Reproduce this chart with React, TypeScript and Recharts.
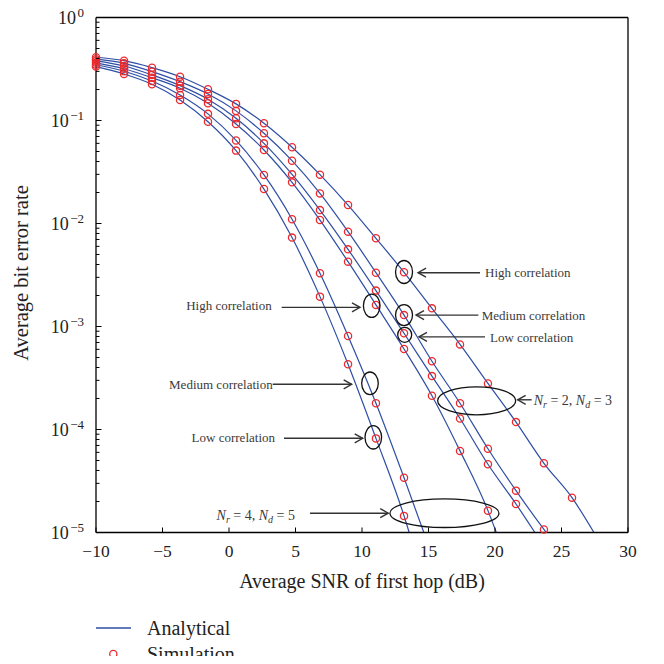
import React from 'react';
import { ComposedChart, Line, Scatter, XAxis, YAxis, ReferenceDot, Legend } from 'recharts';

const FONT = '"Liberation Serif", "Times New Roman", Times, serif';
const BLUE = '#2d4ea5';
const RED = '#eb2a2e';
const INK = '#222222';
const NOTE_INK = '#3a3a3a';

// Average SNR of first hop (dB) at which the simulation points sit
const snr = [-10, -7.89, -5.79, -3.68, -1.58, 0.53, 2.63, 4.74, 6.84, 8.95, 11.05, 13.16, 15.26, 17.37, 19.47, 21.58, 23.68, 25.79];

// Average bit error rate, one array per curve (visible points only)
const berNr2High = [0.411, 0.381, 0.326, 0.266, 0.201, 0.145, 0.094, 0.055, 0.0298, 0.0151, 0.00718, 0.00336, 0.0015, 6.7e-4, 2.8e-4, 1.18e-4, 4.7e-5, 2.18e-5];
const berNr2Med = [0.394, 0.359, 0.298, 0.238, 0.181, 0.124, 0.0751, 0.0407, 0.0196, 0.00833, 0.00333, 0.00129, 4.6e-4, 1.8e-4, 6.5e-5, 2.55e-5, 1.07e-5];
const berNr2Low = [0.379, 0.338, 0.277, 0.218, 0.161, 0.105, 0.06, 0.03, 0.0135, 0.00561, 0.00223, 8.6e-4, 3.3e-4, 1.28e-4, 4.6e-5, 1.89e-5];
const berNr4High = [0.363, 0.318, 0.26, 0.206, 0.147, 0.0925, 0.0517, 0.0251, 0.0108, 0.00426, 0.00162, 6.05e-4, 2.13e-4, 6.2e-5, 1.63e-5];
const berNr4Med = [0.348, 0.301, 0.242, 0.177, 0.116, 0.064, 0.0296, 0.011, 0.00329, 8.1e-4, 1.8e-4, 3.4e-5];
const berNr4Low = [0.334, 0.283, 0.225, 0.158, 0.0973, 0.051, 0.0216, 0.0073, 0.00195, 4.3e-4, 8.2e-5, 1.45e-5];

// SNR (dB) where each analytical curve leaves the plot at the BER floor
const exitSnr = [27.44, 23.85, 23.0, 20.1, 14.65, 13.55];
const BER_FLOOR = 1e-5;

const curveBer = [berNr2High, berNr2Med, berNr2Low, berNr4High, berNr4Med, berNr4Low];
const curveNames = ['Nr2 high', 'Nr2 medium', 'Nr2 low', 'Nr4 high', 'Nr4 medium', 'Nr4 low'];

const xTicks = [-10, -5, 0, 5, 10, 15, 20, 25, 30];
const yDecades = [1e-5, 1e-4, 1e-3, 1e-2, 1e-1, 1];
const yExponents = ['\u22125', '\u22124', '\u22123', '\u22122', '\u22121', '0'];
const yMantissas = [1, 2, 3, 4, 5, 6, 7, 8, 9];
const yTicks = yDecades
  .slice(0, -1)
  .flatMap((d) => yMantissas.map((m) => Number((m * d).toPrecision(3))))
  .concat([1]);

const legendLabels = ['Analytical', 'Simulation'];

const simData = curveBer.map((arr) => arr.map((b, i) => ({ x: snr[i], y: b })));
const lineData = curveBer.map((arr, k) => [...arr.map((b, i) => ({ x: snr[i], y: b })), { x: exitSnr[k], y: BER_FLOOR }]);

type Note = {
  snr: number; ber: number; rx: number; ry: number;
  tail: [number, number]; tip: [number, number]; text: [number, number];
  anchor: 'start' | 'end'; label?: string; relay?: [string, string];
};

const notes: Note[] = [
  { snr: 13.16, ber: 3.38e-3, rx: 8.5, ry: 11.5, tail: [76, 0.7], tip: [14, 0.7], text: [81, 0.7], anchor: 'start', label: 'High correlation' },
  { snr: 13.16, ber: 1.29e-3, rx: 8.5, ry: 10.5, tail: [74.3, 0], tip: [12, 0], text: [77.7, 0], anchor: 'start', label: 'Medium correlation' },
  { snr: 13.21, ber: 8.3e-4, rx: 7, ry: 7.5, tail: [80.3, 2], tip: [14.3, 2], text: [85.3, 2], anchor: 'start', label: 'Low correlation' },
  { snr: 18.62, ber: 1.9e-4, rx: 39, ry: 14, tail: [55, -1], tip: [41, -1], text: [57, 0], anchor: 'start', relay: ['2', '3'] },
  { snr: 10.73, ber: 1.59e-3, rx: 8.3, ry: 11.7, tail: [-90, 1.6], tip: [-11.7, 1.6], text: [-100, -0.7], anchor: 'end', label: 'High correlation' },
  { snr: 10.6, ber: 2.81e-4, rx: 8.3, ry: 11.3, tail: [-97.3, 1], tip: [-18.3, 1], text: [-97.3, 0.7], anchor: 'end', label: 'Medium correlation' },
  { snr: 10.85, ber: 8.4e-5, rx: 8.3, ry: 11.7, tail: [-89.3, 1], tip: [-10.6, 1], text: [-98.3, 0], anchor: 'end', label: 'Low correlation' },
  { snr: 16.2, ber: 1.54e-5, rx: 54.5, ry: 14.3, tail: [-134.5, 0], tip: [-56.2, 0], text: [-149.5, 1.7], anchor: 'end', relay: ['4', '5'] },
];

const isDecade = (v: number) => Math.abs(Math.log10(v) - Math.round(Math.log10(v))) < 1e-9;
const decadeIndex = (v: number) => yDecades.findIndex((d) => Math.abs(Math.log10(d) - Math.log10(v)) < 1e-9);
const fmtX = (v: number) => (v < 0 ? '\u2212' + Math.abs(v) : String(v));

function LeftTick(props: any) {
  const { x, y, payload } = props;
  const v = payload.value;
  const major = isDecade(v);
  const idx = decadeIndex(v);
  return (
    <g>
      <line x1={x} x2={x + (major ? 5.5 : 3.5)} y1={y} y2={y} stroke="#000" strokeWidth={1} />
      {major && (
        <text x={x - 12} y={y + 6} textAnchor="end" fontFamily={FONT} fontSize={18} fill={INK}>
          10
          <tspan dx={1.5} dy={-6.5} fontSize={13}>{yExponents[idx]}</tspan>
        </text>
      )}
    </g>
  );
}

function RightTick(props: any) {
  const { x, y, payload } = props;
  const major = isDecade(payload.value);
  return <line x1={x} x2={x - (major ? 5.5 : 3.5)} y1={y} y2={y} stroke="#000" strokeWidth={1} />;
}

function BottomTick(props: any) {
  const { x, y, payload } = props;
  return (
    <g>
      <line x1={x} x2={x} y1={y} y2={y - 5} stroke="#000" strokeWidth={1} />
      <text x={x} y={y + 24} textAnchor="middle" fontFamily={FONT} fontSize={17.5} fill={INK}>
        {fmtX(payload.value)}
      </text>
    </g>
  );
}

function TopTick(props: any) {
  const { x, y } = props;
  return <line x1={x} x2={x} y1={y} y2={y + 5} stroke="#000" strokeWidth={1} />;
}

function XTitle(props: any) {
  const vb = props.viewBox;
  return (
    <text x={vb.x + vb.width / 2} y={vb.y + 55.8} textAnchor="middle" fontFamily={FONT} fontSize={20} fill={INK}>
      Average SNR of first hop (dB)
    </text>
  );
}

function YTitle(props: any) {
  const vb = props.viewBox;
  const cx = vb.x + 19.5;
  const cy = vb.y + vb.height / 2 - 2;
  return (
    <text x={cx} y={cy} transform={`rotate(-90, ${cx}, ${cy})`} textAnchor="middle" fontFamily={FONT} fontSize={20.5} fill={INK}>
      Average bit error rate
    </text>
  );
}

function SimMarker(props: any) {
  const { cx, cy } = props;
  return <circle cx={cx} cy={cy} r={3.6} fill="none" stroke={RED} strokeWidth={1.3} />;
}

function RelayText({ x, y, anchor, nr, nd }: any) {
  return (
    <text x={x} y={y} textAnchor={anchor} fontFamily={FONT} fontSize={14} fill={NOTE_INK}>
      <tspan fontStyle="italic">N</tspan>
      <tspan fontStyle="italic" fontSize={10} dy={3}>r</tspan>
      <tspan dy={-3}>{' = ' + nr + ', '}</tspan>
      <tspan fontStyle="italic">N</tspan>
      <tspan fontStyle="italic" fontSize={10} dy={3}>d</tspan>
      <tspan dy={-3}>{' = ' + nd}</tspan>
    </text>
  );
}

function NoteMark({ cx, cy, note }: { cx: number; cy: number; note: Note }) {
  const x0 = cx + note.tail[0], y0 = cy + note.tail[1];
  const x1 = cx + note.tip[0], y1 = cy + note.tip[1];
  const dx = x1 - x0, dy = y1 - y0;
  const len = Math.hypot(dx, dy) || 1;
  const ux = dx / len, uy = dy / len;
  const hl = 8, hw = 4.5;
  const bx = x1 - ux * hl, by = y1 - uy * hl;
  const p1 = `${bx - uy * hw},${by + ux * hw}`;
  const p2 = `${bx + uy * hw},${by - ux * hw}`;
  const tx = cx + note.text[0];
  const ty = cy + note.text[1] + 4.7;
  return (
    <g>
      <ellipse cx={cx} cy={cy} rx={note.rx} ry={note.ry} fill="none" stroke="#111" strokeWidth={1.3} />
      <line x1={x0} y1={y0} x2={x1} y2={y1} stroke="#333" strokeWidth={1.4} />
      <polyline points={`${p1} ${x1},${y1} ${p2}`} fill="none" stroke="#333" strokeWidth={1.4} />
      {note.relay ? (
        <RelayText x={tx} y={ty} anchor={note.anchor} nr={note.relay[0]} nd={note.relay[1]} />
      ) : (
        <text x={tx} y={ty} textAnchor={note.anchor} fontFamily={FONT} fontSize={13} fill={NOTE_INK}>
          {note.label}
        </text>
      )}
    </g>
  );
}

function LegendContent() {
  const row: React.CSSProperties = { display: 'flex', alignItems: 'center', height: 18, lineHeight: '18px' };
  return (
    <div style={{ fontFamily: FONT, fontSize: 20, color: INK }}>
      <div style={row}>
        <svg width={51} height={18} style={{ display: 'block' }}>
          <line x1={0} x2={35} y1={9} y2={9} stroke={BLUE} strokeWidth={1.3} />
        </svg>
        <span>{legendLabels[0]}</span>
      </div>
      <div style={{ ...row, marginTop: 8.6 }}>
        <svg width={51} height={18} style={{ display: 'block' }}>
          <circle cx={17.3} cy={9} r={3.6} fill="none" stroke={RED} strokeWidth={1.3} />
        </svg>
        <span>{legendLabels[1]}</span>
      </div>
    </div>
  );
}

const axisLine = { stroke: '#000', strokeWidth: 1.3 };

export default function App() {
  return (
    <div style={{ width: 648, height: 656, marginTop: -8 }}>
      <ComposedChart width={648} height={656} margin={{ top: 16.5, right: 26, bottom: 43.5, left: 0 }}>
        <XAxis
          dataKey="x" type="number" domain={[-10, 30]} ticks={xTicks} interval={0}
          tickSize={0} tickMargin={0} tickLine={false} tick={<BottomTick />} axisLine={axisLine}
          height={80} label={{ content: XTitle }}
        />
        <XAxis
          xAxisId="top" orientation="top" dataKey="x" type="number" domain={[-10, 30]} ticks={xTicks} interval={0}
          tickSize={0} tickMargin={0} tickLine={false} tick={<TopTick />} axisLine={axisLine} height={1}
        />
        <YAxis
          dataKey="y" type="number" scale="log" domain={[1e-5, 1]} ticks={yTicks} interval={0}
          tickSize={0} tickMargin={0} tickLine={false} tick={<LeftTick />} axisLine={axisLine}
          width={88} label={{ content: YTitle }}
        />
        <YAxis
          yAxisId="right" orientation="right" dataKey="y" type="number" scale="log" domain={[1e-5, 1]}
          ticks={yTicks} interval={0} tickSize={0} tickMargin={0} tickLine={false} tick={<RightTick />}
          axisLine={axisLine} width={2}
        />
        {lineData.map((d, k) => (
          <Line
            key={'line-' + k} name={curveNames[k]} data={d} dataKey="y" type="monotone"
            stroke={BLUE} strokeWidth={1.2} dot={false} activeDot={false} isAnimationActive={false}
          />
        ))}
        {simData.map((d, k) => (
          <Scatter key={'sim-' + k} name={curveNames[k]} data={d} shape={SimMarker} isAnimationActive={false} />
        ))}
        {notes.map((n, i) => (
          <ReferenceDot
            key={'note-' + i} x={n.snr} y={n.ber} r={0} ifOverflow="visible"
            shape={(p: any) => <NoteMark cx={p.cx} cy={p.cy} note={n} />}
          />
        ))}
        <Legend
          layout="horizontal" verticalAlign="middle" align="center"
          wrapperStyle={{ left: 88, top: 618.7, width: 240, height: 44.6 }}
          content={() => <LegendContent />}
        />
      </ComposedChart>
    </div>
  );
}
